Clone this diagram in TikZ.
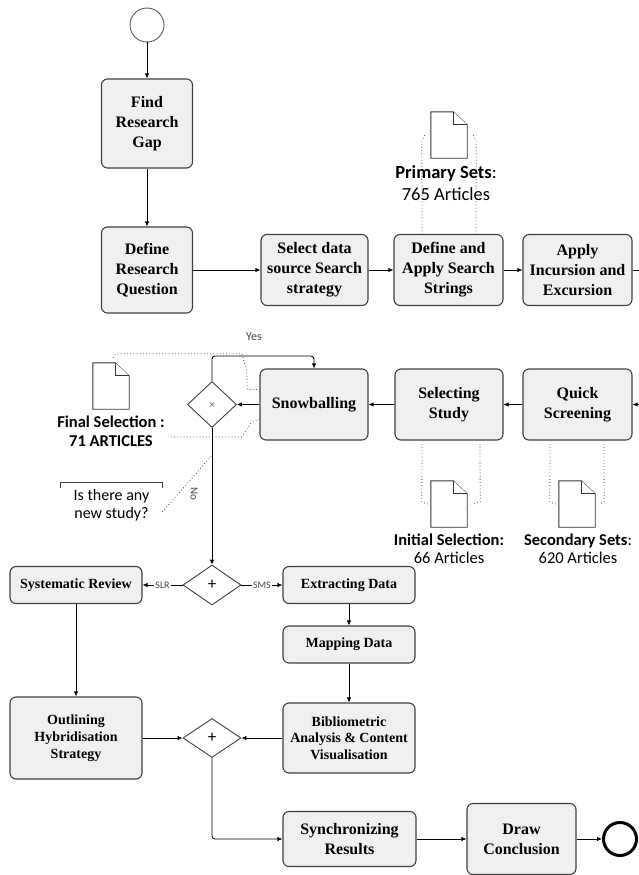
\documentclass[tikz,border=0pt]{standalone}
\usepackage{fontspec}
\setmainfont{Liberation Serif}
\newfontfamily\calfont{Carlito}
\usetikzlibrary{shapes.geometric,arrows.meta,calc}
\definecolor{boxfill}{RGB}{240,240,240}
\definecolor{boxline}{RGB}{64,64,64}
\definecolor{lblgray}{RGB}{70,70,70}
\newcommand\drawdoc[1]{%
  \draw[docline] (#1.north west) -- ([xshift=-14pt]#1.north east) -- ([yshift=-13pt]#1.north east) -- (#1.south east) -- (#1.south west) -- cycle;
  \draw[docline] ([xshift=-14pt]#1.north east) |- ([yshift=-13pt]#1.north east);}
\begin{document}
\begin{tikzpicture}[x=1pt,y=-1pt,
  task/.style={draw=boxline, line width=1.1pt, fill=boxfill, rounded corners=6pt, inner sep=0pt, align=center, font=\fontsize{16}{20}\selectfont\bfseries},
  smalltask/.style={task, font=\fontsize{14}{16.7}\selectfont\bfseries},
  gate/.style={diamond, draw=boxline, line width=0.9pt, fill=white, inner sep=0pt},
  conn/.style={draw=black, line width=0.8pt, -{Latex[length=5pt,width=4.5pt]}},
  assoc/.style={draw=black!70, line width=0.8pt, dash pattern=on 0.8pt off 2.4pt},
  docline/.style={draw=black!80, line width=0.9pt, fill=white},
  docbox/.style={minimum width=36pt, minimum height=46pt, inner sep=0pt},
  doclbl/.style={font=\calfont\fontsize{16.5}{18}\selectfont, align=center, inner sep=0pt},
  flowlbl/.style={font=\calfont\fontsize{10}{12}\selectfont, text=lblgray, fill=white, inner sep=1.5pt},
]
\useasboundingbox (0,0) rectangle (639,875);

% events
\node[circle, draw=black!65, line width=0.9pt, minimum size=34pt, inner sep=0pt] (start) at (147,25) {};
\node[circle, draw=black, line width=3pt, minimum size=33pt, inner sep=0pt] (end) at (620,839) {};

% row 1
\node[task, minimum width=91pt, minimum height=89pt] (gap) at (147,123.5) {Find\\Research\\Gap};
\node[task, minimum width=91pt, minimum height=86pt] (rq) at (147,270) {Define\\Research\\Question};
\node[task, minimum width=107pt, minimum height=71pt] (sel) at (314.5,270) {Select data\\source Search\\strategy};
\node[task, minimum width=109pt, minimum height=71pt] (def) at (448.5,270) {Define and\\Apply Search\\Strings};
\node[task, minimum width=109pt, minimum height=71pt] (app) at (577.5,270) {Apply\\Incursion and\\Excursion};

% row 2
\node[task, minimum width=108pt, minimum height=71pt] (snow) at (314,404.5) {Snowballing};
\node[task, minimum width=108pt, minimum height=71pt] (study) at (449,404.5) {Selecting\\Study};
\node[task, minimum width=109pt, minimum height=71pt] (quick) at (577.5,404.5) {Quick\\Screening};
\node[gate, minimum width=49pt, minimum height=46pt, font=\fontsize{10}{12}\selectfont] (gx) at (212,404.5) {$\times$};

% row 3
\node[gate, minimum width=58pt, minimum height=40pt, font=\calfont\fontsize{17}{18}\selectfont] (gp) at (212,585) {+};
\node[smalltask, minimum width=132pt, minimum height=37pt] (sr) at (76,585) {Systematic Review};
\node[smalltask, minimum width=132pt, minimum height=37pt] (ext) at (349,585) {Extracting Data};
\node[smalltask, minimum width=132pt, minimum height=37pt] (map) at (349,644.5) {Mapping Data};
\node[smalltask, minimum width=132pt, minimum height=70pt] (bib) at (349,738) {Bibliometric\\Analysis \& Content\\Visualisation};
\node[smalltask, minimum width=132pt, minimum height=82pt] (out) at (76,738) {Outlining\\Hybridisation\\Strategy};
\node[gate, minimum width=58pt, minimum height=39pt, font=\calfont\fontsize{17}{18}\selectfont] (gm) at (212,738) {+};

% row 4
\node[task, minimum width=133pt, minimum height=55pt] (sync) at (349.5,839) {Synchronizing\\Results};
\node[task, minimum width=109pt, minimum height=71pt] (conc) at (521.5,839) {Draw\\Conclusion};

% documents
\node[docbox] (pdoc) at (449,135) {};
\drawdoc{pdoc}
\node[doclbl, font=\calfont\fontsize{18.5}{22}\selectfont] (plbl) at (446,183) {\textbf{Primary Sets}:\\765 Articles};
\node[docbox] (fdoc) at (111,386) {};
\drawdoc{fdoc}
\node[doclbl, font=\calfont\fontsize{16.5}{19}\selectfont] (flbl) at (111,431.5) {\textbf{Final Selection :}\\\textbf{71 ARTICLES}};
\node[docbox] (idoc) at (449,504) {};
\drawdoc{idoc}
\node[doclbl] (ilbl) at (449,549) {\textbf{Initial Selection:}\\66 Articles};
\node[docbox] (sdoc) at (577,504) {};
\drawdoc{sdoc}
\node[doclbl] (slbl) at (578,549) {\textbf{Secondary Sets}:\\620 Articles};

% annotation
\node[font=\calfont\fontsize{16}{18.5}\selectfont, align=center, inner sep=0pt, minimum width=101pt, minimum height=44pt] (ann) at (111.5,505) {Is there any\\new study?};
\draw[draw=black!75, line width=0.9pt] ([yshift=-5pt]ann.north west) -- (ann.north west) -- (ann.north east) -- ([yshift=-5pt]ann.north east);

% sequence flows
\draw[conn] (start.south) -- (start.south |- gap.north);
\draw[conn] (gap) -- (rq);
\draw[conn] (rq) -- (sel);
\draw[conn] (sel) -- (def);
\draw[conn] (def) -- (app);
\coordinate (rOut) at (639,270);
\coordinate (rIn) at (639,404.5);
\draw[line width=0.8pt] (app.east) -- (rOut);
\draw[conn] (rIn) -- (quick.east);
\draw[conn] (quick) -- (study);
\draw[conn] (study) -- (snow);
\draw[conn] (snow) -- (gx);
\draw[conn, rounded corners=3pt] (gx.north) -- ++(0,-25) -| (snow.north);
\node[font=\calfont\fontsize{12}{14}\selectfont, text=lblgray] (yes) at (254,337) {Yes};
\draw[conn] (gx.south) -- (gp.north) coordinate[pos=0.2] (annpt);
\node[font=\calfont\fontsize{11}{13}\selectfont, text=lblgray, rotate=-90] (nolbl) at (194,494) {No};
\draw[conn] (gp.west) -- node[flowlbl]{SLR} (sr.east);
\draw[conn] (gp.east) -- node[flowlbl]{SMS} (ext.west);
\draw[conn] (sr) -- (out);
\draw[conn] (ext) -- (map);
\draw[conn] (map) -- (bib);
\draw[conn] (out) -- (gm);
\draw[conn] (bib) -- (gm);
\draw[conn, rounded corners=3pt] (gm.south) |- (sync.west);
\draw[conn] (sync) -- (conc);
\draw[conn] (conc) -- (end);

% associations (dotted)
\draw[assoc] ([xshift=-6pt]pdoc.west) -- ([xshift=-9pt,yshift=-6pt]pdoc.west) -- ([xshift=-26.5pt]def.north);
\draw[assoc] ([xshift=6pt]pdoc.east) -- ([xshift=9pt,yshift=-6pt]pdoc.east) -- ([xshift=27.5pt]def.north);
\draw[assoc] ([xshift=-27pt]study.south) -- ([xshift=-9pt,yshift=2pt]idoc.west) -- ([xshift=-3pt]idoc.west);
\draw[assoc] ([xshift=31pt]study.south) -- ([xshift=13pt,yshift=2pt]idoc.east) -- ([xshift=4pt]idoc.east);
\draw[assoc] ([xshift=-27.5pt]quick.south) -- ([xshift=-9pt,yshift=2pt]sdoc.west) -- ([xshift=-3pt]sdoc.west);
\draw[assoc] ([xshift=26.5pt]quick.south) -- ([xshift=9pt,yshift=2pt]sdoc.east) -- ([xshift=4pt]sdoc.east);
\draw[assoc] ([xshift=2pt,yshift=5pt]fdoc.north) -- ([xshift=5pt,yshift=9pt]fdoc.north) -- ([xshift=131pt,yshift=9pt]fdoc.north) -- ([xshift=-13pt,yshift=-2pt]snow.north west) -- ([xshift=-12pt,yshift=15pt]snow.west) -- ([yshift=15pt]snow.west);
\draw[assoc] ([xshift=6pt,yshift=-5.5pt]flbl.east) -- ([xshift=-18pt,yshift=-32.5pt]snow.west) -- ([xshift=-12pt,yshift=-24pt]snow.west) -- ([xshift=-8pt,yshift=-18pt]snow.west) -- ([yshift=-15pt]snow.west);
\draw[assoc] ([yshift=-7pt]ann.east) -- (annpt);
\end{tikzpicture}
\end{document}
